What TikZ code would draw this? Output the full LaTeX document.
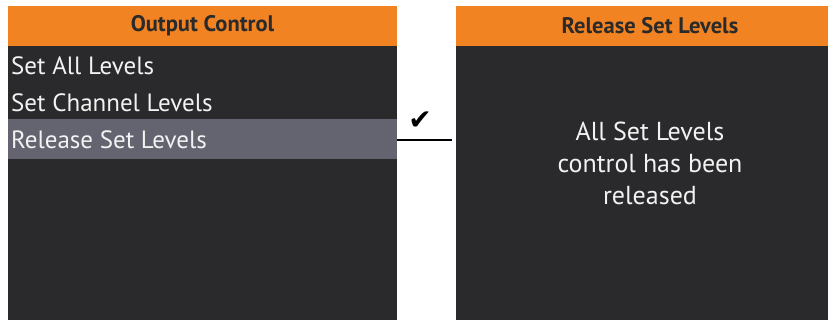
\documentclass[tikz,border=0pt]{standalone}
\usepackage{fontspec}
\setmainfont{PT Sans}
\newfontfamily\symfont{DejaVu Sans}
\definecolor{hdr}{HTML}{F28322}
\definecolor{scr}{HTML}{2A2A2C}
\definecolor{sel}{HTML}{63646F}
\definecolor{ink}{HTML}{2A2A2A}
\definecolor{txt}{HTML}{F2F2F2}
\tikzset{
  x=1pt,y=-1pt,
  panel/.style={fill=scr,draw=none},
  header/.style={fill=hdr,draw=none},
  hdrtext/.style={font=\fontsize{22.5}{26}\selectfont\bfseries,text=ink,inner sep=0pt},
  item/.style={font=\fontsize{25}{29}\selectfont,text=txt,anchor=west,inner sep=0pt},
  msg/.style={font=\fontsize{26}{32}\selectfont,text=txt,align=center,inner sep=0pt},
  link/.style={draw=black,line width=2pt}
}
\begin{document}
\begin{tikzpicture}
\useasboundingbox (0,0) rectangle (831,320);
\fill[white] (0,0) rectangle (831,320);
% left panel
\path[panel] (8,6) rectangle (397,320);
\path[header] (8,6) rectangle (397,46);
\path[fill=sel] (8,119) rectangle (397,159);
\node[hdrtext] (lh) at (202.5,26) {Output Control};
\node[item] (i1) at (11,66) {Set All Levels};
\node[item] (i2) at (11,103) {Set Channel Levels};
\node[item] (i3) at (11,140) {Release Set Levels};
% right panel
\path[panel] (456,6) rectangle (828,320);
\path[header] (456,6) rectangle (828,46);
\node[hdrtext] (rh) at (650,26) {Release Set Levels};
\node[msg] (m) at (650,163) {All Set Levels\\control has been\\released};
% connector
\coordinate (a) at (397,140);
\coordinate (b) at (452,140);
\draw[link] (a) -- (b);
\node[font=\symfont\fontsize{28}{30}\selectfont,inner sep=0pt] (ck) at (420,121) {✔};
\end{tikzpicture}
\end{document}
